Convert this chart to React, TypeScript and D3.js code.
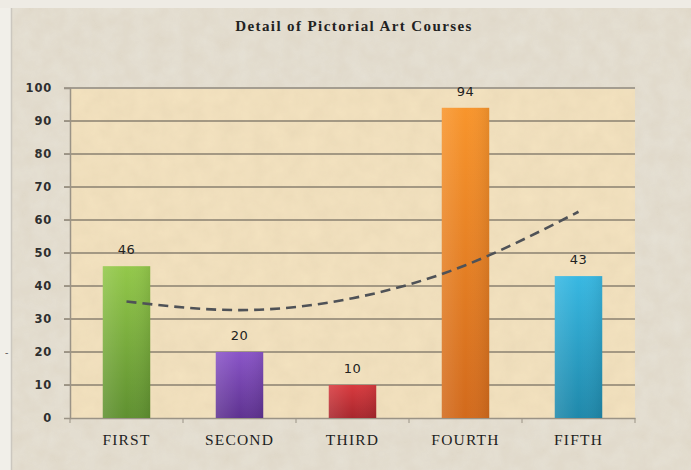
import React, { useEffect, useRef } from 'react';
import * as d3 from 'd3';

const categories = ['FIRST', 'SECOND', 'THIRD', 'FOURTH', 'FIFTH'];
const values = [46, 20, 10, 94, 43];
// polynomial trendline
const trendValues = [35.3, 32.7, 36.3, 46.3, 62.5];
const yTicks = [0, 10, 20, 30, 40, 50, 60, 70, 80, 90, 100];
const barTop = ['#93c84a', '#8a55c8', '#d83a3e', '#f8952c', '#38b8e2'];
const barBottom = ['#5f9030', '#5e3290', '#a8262d', '#d26a1c', '#1f88aa'];

const App = () => {
  const ref = useRef<SVGSVGElement>(null);
  const W = 691;
  const H = 470;
  const margin = { top: 88, right: 56, bottom: 52, left: 70 };
  const width = W - margin.left - margin.right;
  const height = H - margin.top - margin.bottom;

  useEffect(() => {
    const root = d3.select(ref.current);
    root.selectAll('*').remove();

    const defs = root.append('defs');

    // parchment noise
    const noise = defs.append('filter').attr('id', 'paper')
      .attr('x', 0).attr('y', 0).attr('width', '100%').attr('height', '100%');
    noise.append('feTurbulence')
      .attr('type', 'fractalNoise')
      .attr('baseFrequency', 0.06)
      .attr('numOctaves', 3)
      .attr('seed', 4);
    noise.append('feColorMatrix')
      .attr('type', 'matrix')
      .attr('values', '0 0 0 0 0.55  0 0 0 0 0.45  0 0 0 0 0.3  0 0 0 0.3 0');
    noise.append('feComposite').attr('in2', 'SourceGraphic').attr('operator', 'in');

    categories.forEach((_, i) => {
      const g = defs.append('linearGradient')
        .attr('id', `bar${i}`)
        .attr('x1', 0).attr('y1', 0).attr('x2', 0).attr('y2', 1);
      g.append('stop').attr('offset', '0%').attr('stop-color', barTop[i]);
      g.append('stop').attr('offset', '100%').attr('stop-color', barBottom[i]);
      const s = defs.append('linearGradient')
        .attr('id', `shade${i}`)
        .attr('x1', 0).attr('y1', 0).attr('x2', 1).attr('y2', 0);
      s.append('stop').attr('offset', '0%').attr('stop-color', '#fff').attr('stop-opacity', 0.12);
      s.append('stop').attr('offset', '50%').attr('stop-color', '#fff').attr('stop-opacity', 0);
      s.append('stop').attr('offset', '100%').attr('stop-color', '#000').attr('stop-opacity', 0.08);
    });

    // background
    root.append('rect').attr('width', W).attr('height', H).attr('fill', '#e6e1d5');
    root.append('rect').attr('width', W).attr('height', H).attr('fill', '#fff').attr('filter', 'url(#paper)').attr('opacity', 0.7);
    root.append('rect').attr('x', 0).attr('y', 0).attr('width', 11).attr('height', H).attr('fill', '#f1efe9');
    root.append('rect').attr('x', 0).attr('y', 0).attr('width', W).attr('height', 8).attr('fill', '#eeebe4');
    root.append('line')
      .attr('x1', 11.5).attr('x2', 11.5).attr('y1', 8).attr('y2', H)
      .attr('stroke', '#cbc7bf').attr('stroke-width', 1.5);

    root.append('text')
      .attr('x', 354)
      .attr('y', 31)
      .attr('text-anchor', 'middle')
      .attr('font-family', 'Liberation Serif, serif')
      .attr('font-weight', 'bold')
      .attr('font-size', 15)
      .attr('letter-spacing', 1.4)
      .attr('fill', '#222')
      .text('Detail of Pictorial Art Courses');

    const svg = root.append('g')
      .attr('transform', `translate(${margin.left}, ${margin.top})`);

    const xScale = d3.scaleBand()
      .domain(categories)
      .range([0, width])
      .paddingInner(0.58)
      .paddingOuter(0.29);

    const yScale = d3.scaleLinear()
      .domain([0, 100])
      .range([height, 0]);

    // plot area
    svg.append('rect')
      .attr('width', width).attr('height', height)
      .attr('fill', '#f4e3c0');
    svg.append('rect')
      .attr('width', width).attr('height', height)
      .attr('fill', '#fff').attr('filter', 'url(#paper)').attr('opacity', 0.6);

    // gridlines
    svg.selectAll('line.grid')
      .data(yTicks.filter(d => d > 0))
      .enter()
      .append('line')
      .attr('class', 'grid')
      .attr('x1', -6).attr('x2', width)
      .attr('y1', d => yScale(d)).attr('y2', d => yScale(d))
      .attr('stroke', d => (d === 100 ? '#a49d90' : '#8a8170'))
      .attr('stroke-width', d => (d === 100 ? 2.2 : 1.4));

    // y axis
    const yAxis = svg.append('g')
      .call(d3.axisLeft(yScale).tickValues(yTicks).tickSize(6).tickPadding(12));
    yAxis.select('.domain').attr('stroke', '#9a9386').attr('stroke-width', 1.5);
    yAxis.selectAll('.tick line').attr('stroke', '#9a9386');
    yAxis.selectAll('text')
      .attr('font-family', 'DejaVu Sans, sans-serif')
      .attr('font-weight', 'bold')
      .attr('font-size', 11.5)
      .attr('letter-spacing', 0.8)
      .attr('fill', '#2f2f2f');

    // x axis
    const xAxis = svg.append('g')
      .attr('transform', `translate(0, ${height})`)
      .call(d3.axisBottom(xScale).tickSize(0).tickPadding(16));
    xAxis.select('.domain').attr('stroke', '#9a9386').attr('stroke-width', 1.5);
    xAxis.selectAll('text')
      .attr('font-family', 'Liberation Serif, serif')
      .attr('font-size', 15.5)
      .attr('letter-spacing', 1.2)
      .attr('fill', '#1e1e1e');
    const step = xScale.step();
    xAxis.selectAll('line.sep')
      .data(d3.range(categories.length + 1))
      .enter()
      .append('line')
      .attr('class', 'sep')
      .attr('x1', i => i * step).attr('x2', i => i * step)
      .attr('y1', 0).attr('y2', 5)
      .attr('stroke', '#9a9386');

    // bars
    const bars = svg.selectAll('g.bar')
      .data(values)
      .enter()
      .append('g')
      .attr('class', 'bar');
    bars.append('rect')
      .attr('x', (_, i) => xScale(categories[i]) as number)
      .attr('y', d => yScale(d))
      .attr('width', xScale.bandwidth())
      .attr('height', d => height - yScale(d))
      .attr('fill', (_, i) => `url(#bar${i})`);
    bars.append('rect')
      .attr('x', (_, i) => xScale(categories[i]) as number)
      .attr('y', d => yScale(d))
      .attr('width', xScale.bandwidth())
      .attr('height', d => height - yScale(d))
      .attr('fill', (_, i) => `url(#shade${i})`);

    // data labels
    svg.selectAll('text.val')
      .data(values)
      .enter()
      .append('text')
      .attr('class', 'val')
      .attr('x', (_, i) => (xScale(categories[i]) as number) + xScale.bandwidth() / 2)
      .attr('y', d => yScale(d) - 12)
      .attr('text-anchor', 'middle')
      .attr('font-family', 'DejaVu Sans, sans-serif')
      .attr('font-size', 13)
      .attr('letter-spacing', 0.5)
      .attr('fill', '#222')
      .text(d => d);

    // trendline
    const line = d3.line<number>()
      .x((_, i) => (xScale(categories[i]) as number) + xScale.bandwidth() / 2)
      .y(d => yScale(d))
      .curve(d3.curveNatural);
    svg.append('path')
      .datum(trendValues)
      .attr('d', line)
      .attr('fill', 'none')
      .attr('stroke', '#4f5257')
      .attr('stroke-width', 2.6)
      .attr('stroke-dasharray', '10,6');

    // stray dash at the left edge
    root.append('text')
      .attr('x', 5).attr('y', 356)
      .attr('font-size', 10)
      .attr('fill', '#555')
      .text('-');
  });

  return <svg ref={ref} width={W} height={H} style={{ position: 'absolute', left: 0, top: 0 }} />;
};

export default App;
